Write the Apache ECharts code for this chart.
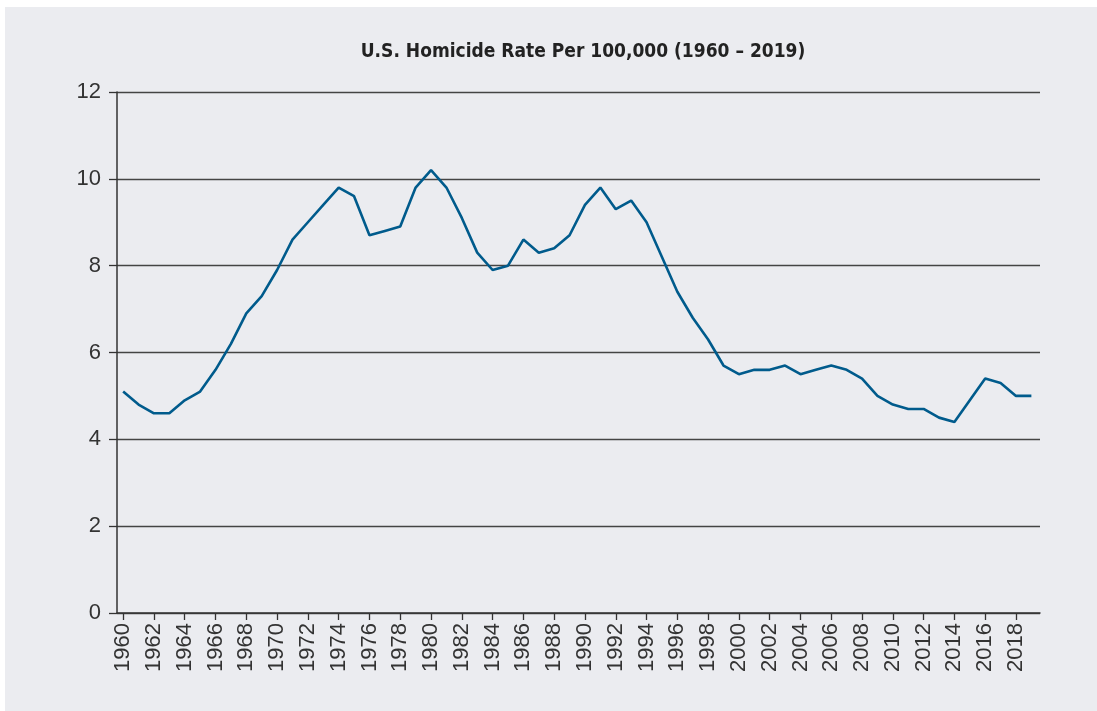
<!DOCTYPE html>
<html>
<head>
<meta charset="utf-8">
<script src="https://cdn.jsdelivr.net/npm/echarts@6/dist/echarts.min.js"></script>
<style>
html,body{margin:0;padding:0;background:#ffffff;overflow:hidden;width:100%;height:100%;}
#panel{position:absolute;left:5px;top:7px;right:0;bottom:0;background:#ebecf0;}
#chart{position:absolute;left:0;top:0;width:1097px;height:711px;}
</style>
</head>
<body>
<div id="panel"></div>
<div id="chart"></div>
<script>
const years = [];
for (let y = 1960; y <= 2019; y++) years.push(y);
const homicideRate = [
  5.1, 4.8, 4.6, 4.6, 4.9, 5.1, 5.6, 6.2, 6.9, 7.3,
  7.9, 8.6, 9.0, 9.4, 9.8, 9.6, 8.7, 8.8, 8.9, 9.8,
  10.2, 9.8, 9.1, 8.3, 7.9, 8.0, 8.6, 8.3, 8.4, 8.7,
  9.4, 9.8, 9.3, 9.5, 9.0, 8.2, 7.4, 6.8, 6.3, 5.7,
  5.5, 5.6, 5.6, 5.7, 5.5, 5.6, 5.7, 5.6, 5.4, 5.0,
  4.8, 4.7, 4.7, 4.5, 4.4, 4.9, 5.4, 5.3, 5.0, 5.0
];
const xTickYears = [1960,1962,1964,1966,1968,1970,1972,1974,1976,1978,1980,1982,1984,1986,1988,1990,1992,1994,1996,1998,2000,2002,2004,2006,2008,2010,2012,2014,2016,2018];
const yTicks = [0, 2, 4, 6, 8, 10, 12];
const titleText = 'U.S. Homicide Rate Per 100,000 (1960 – 2019)';

const chart = echarts.init(document.getElementById('chart'), null, {renderer: 'canvas'});
const labelFont = '"Liberation Sans", Arial, Helvetica, sans-serif';
chart.setOption({
  backgroundColor: 'transparent',
  animation: false,
  title: {
    text: titleText,
    left: 578,
    textAlign: 'center',
    top: 38,
    textStyle: {
      fontFamily: '"Liberation Sans Narrow", "DejaVu Sans Condensed", sans-serif',
      fontWeight: 'bold',
      fontSize: 19,
      color: '#222222'
    }
  },
  grid: {left: 117, right: 57, top: 92, bottom: 98, containLabel: false},
  xAxis: {
    type: 'value',
    min: 1959.6,
    max: 2019.56,
    splitLine: {show: false},
    axisLine: {show: true, lineStyle: {color: '#333333', width: 1.5}},
    axisTick: {show: true, length: 7, customValues: xTickYears, lineStyle: {color: '#333333', width: 1.3}},
    axisLabel: {
      customValues: xTickYears,
      rotate: 90,
      margin: 10,
      fontFamily: labelFont,
      fontSize: 22,
      color: '#333333',
      formatter: v => String(Math.round(v))
    }
  },
  yAxis: {
    type: 'value',
    min: 0,
    max: 12,
    interval: 2,
    splitLine: {show: true, lineStyle: {color: '#444444', width: 1.3}},
    axisLine: {show: true, lineStyle: {color: '#333333', width: 1.5}},
    axisTick: {show: true, length: 8, lineStyle: {color: '#333333', width: 1.3}},
    axisLabel: {
      margin: 16,
      fontFamily: labelFont,
      fontSize: 22,
      color: '#333333',
      customValues: yTicks
    }
  },
  series: [{
    type: 'line',
    data: years.map((y, i) => [y, homicideRate[i]]),
    showSymbol: false,
    lineStyle: {color: '#005b8c', width: 2.6},
    itemStyle: {color: '#005b8c'}
  }]
});
</script>
</body>
</html>
